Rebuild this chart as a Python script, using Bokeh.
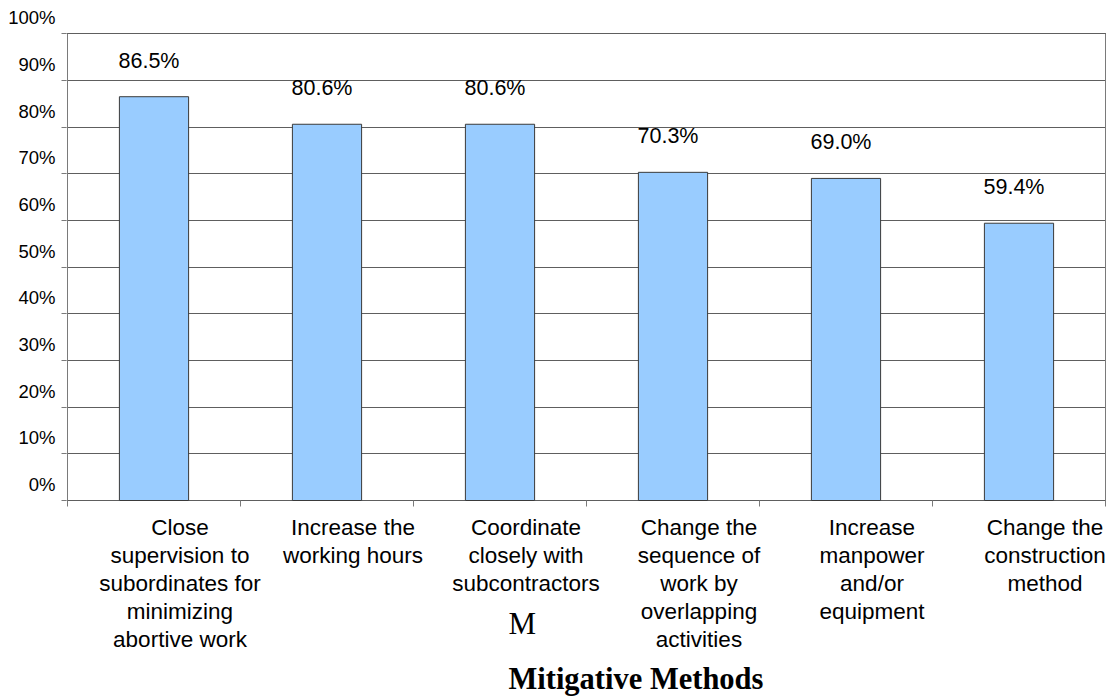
from bokeh.plotting import figure
from bokeh.models import (Range1d, LinearAxis, FixedTicker, PrintfTickFormatter,
                          ColumnDataSource, Grid)
from bokeh.core.properties import value
from bokeh.embed import file_html
from bokeh.resources import INLINE

# Share of respondents adopting each mitigative method
methods = [
    "Close\nsupervision to\nsubordinates for\nminimizing\nabortive work",
    "Increase the\nworking hours",
    "Coordinate\nclosely with\nsubcontractors",
    "Change the\nsequence of\nwork by\noverlapping\nactivities",
    "Increase\nmanpower\nand/or\nequipment",
    "Change the\nconstruction\nmethod",
]
shares = [86.5, 80.6, 80.6, 70.3, 69.0, 59.4]
y_ticks = [0, 10, 20, 30, 40, 50, 60, 70, 80, 90, 100]
axis_title = "Mitigative Methods"
stray_letter = "M"

SANS = "Liberation Sans"
SERIF = "Liberation Serif"
GRID = "#5e5e5e"
AXIS = "#7a7a7a"

n = len(methods)
centers = [i + 0.5 for i in range(n)]
bounds = list(range(n + 1))

bars = ColumnDataSource(dict(
    x=centers,
    share=shares,
    label=[f"{v:.1f}%" for v in shares],
    method=methods,
    base=[0] * n,
))

# one frame spans the canvas below and above the plot area so that the
# category names and the axis title sit inside it
PX = 4.668            # pixels per percentage point
Y_LO, Y_HI = -196 / PX, 500 / PX
SHIFT = 3.4           # percentage labels sit this far above their grid line

p = figure(
    width=1106, height=696,
    x_range=Range1d(-1 / 173, n + 1 / 173),
    y_range=Range1d(Y_LO, Y_HI),
    output_backend="svg", toolbar_location=None,
    x_axis_location=None, y_axis_location=None,
    min_border_left=66, min_border_right=0,
    min_border_top=0, min_border_bottom=0,
    outline_line_color=None, background_fill_color="white",
)

# drop the default grids; only horizontal lines at every 10 % are drawn
p.center = [r for r in p.center if not isinstance(r, Grid)]
p.add_layout(Grid(dimension=1, ticker=FixedTicker(ticks=y_ticks),
                  grid_line_color=GRID, grid_line_width=1))

# percentage axis on the left
p.extra_y_ranges = {"pct": Range1d(Y_LO - SHIFT, Y_HI - SHIFT)}
ya = LinearAxis(
    y_range_name="pct",
    ticker=FixedTicker(ticks=y_ticks, minor_ticks=[t - SHIFT for t in y_ticks]),
    formatter=PrintfTickFormatter(format="%d%%"),
    axis_line_color=None, major_tick_line_color=None,
    major_tick_out=0, major_tick_in=0,
    minor_tick_line_color=AXIS, minor_tick_out=5, minor_tick_in=0,
    major_label_standoff=6,
    major_label_text_font=SANS, major_label_text_font_size="18.5px",
    major_label_text_color="black",
)
p.add_layout(ya, "left")

# plot-area border: left and right edges
p.segment(x0=[0, n], y0=[0, 0], x1=[0, n], y1=[100, 100],
          line_color=AXIS, line_width=1)
# category boundary ticks under the base line
p.segment(x0=bounds, y0=[0] * (n + 1), x1=bounds, y1=[-6 / PX] * (n + 1),
          line_color=AXIS, line_width=1)

p.vbar(x="x", top="share", bottom="base", width=0.4, source=bars,
       fill_color="#99CCFF", line_color="#3a3a3a", line_width=1)

p.text(x="x", y="share", text="label", source=bars, x_offset=-5, y_offset=-36,
       text_align="center", text_baseline="middle",
       text_font=value(SANS), text_font_size="21.5px", text_color="black")

# category names, set a little right of each category's centre
p.text(x="x", y="base", text="method", source=bars, x_offset=26, y_offset=14,
       text_align="center", text_baseline="top",
       text_font=value(SANS), text_font_size="22.5px", text_color="black",
       text_line_height=1.12)

p.text(x=[2.549], y=[0], text=[stray_letter], y_offset=123,
       text_align="left", text_baseline="middle",
       text_font=value(SERIF), text_font_size="31px", text_color="black")
p.text(x=[2.549], y=[0], text=[axis_title], y_offset=178,
       text_align="left", text_baseline="middle",
       text_font=value(SERIF), text_font_size="30.5px", text_font_style="bold",
       text_color="black")

open("out.html", "w").write(file_html(p, INLINE))
